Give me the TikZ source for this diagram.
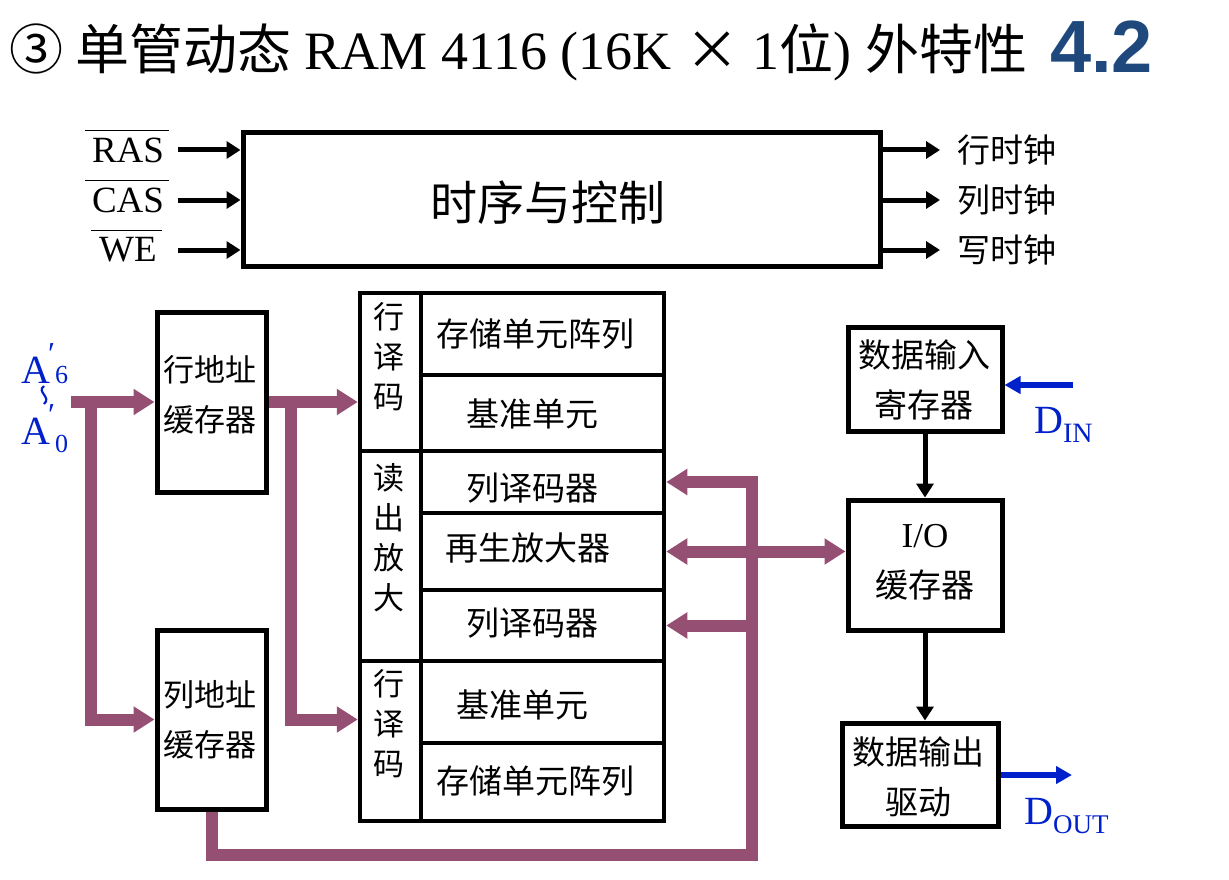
\documentclass[tikz,border=0pt]{standalone}
\usepackage{fontspec}
\setmainfont{Liberation Serif}
\newfontfamily\cjk{Noto Sans CJK SC}
\newfontfamily\lsans{Liberation Sans}
\usetikzlibrary{arrows.meta}
\definecolor{busc}{RGB}{149,79,114}
\definecolor{sigblue}{RGB}{0,32,204}
\definecolor{numblue}{RGB}{31,73,125}
\begin{document}
\begin{tikzpicture}[x=1pt,y=-1pt,
  box/.style={draw, line width=5pt, inner sep=0pt},
  cell/.style={draw, line width=4.5pt, inner sep=0pt},
  ctext/.style={inner sep=0pt, align=center, font=\cjk\fontsize{33}{40}\selectfont},
  btext/.style={inner sep=0pt, align=center, font=\cjk\fontsize{31}{50}\selectfont},
  rtext/.style={inner sep=0pt, align=center, font=\cjk\fontsize{33}{50}\selectfont},
  vtext/.style={inner sep=0pt, align=center, font=\cjk\fontsize{31}{40}\selectfont},
  sig/.style={inner sep=0pt, font=\fontsize{37}{37}\selectfont},
  ovl/.style={line width=1.5pt},
  clk/.style={inner sep=0pt, anchor=west, font=\cjk\fontsize{33}{33}\selectfont},
  blk/.style={line width=5pt, -{Triangle[length=14pt,width=17pt]}},
  pbus/.style={draw=busc, line width=12pt, line join=miter},
  ptip/.style={-{Triangle[length=21pt,width=25pt]}},
  ptipb/.style={{Triangle[length=21pt,width=25pt]}-{Triangle[length=21pt,width=25pt]}},
  bl/.style={draw=sigblue, line width=5.5pt, -{Triangle[length=16pt,width=17pt]}},
  blab/.style={inner sep=0pt, anchor=base west, text=sigblue, font=\fontsize{40}{40}\selectfont}
]
\useasboundingbox (0,0) rectangle (1229,880);

% ---------- title ----------
\node[anchor=base west, inner sep=0pt] (title) at (9,70)
  {\fontsize{54}{60}\selectfont{\cjk ③ 单管动态} RAM 4116 (16K {\cjk ×} 1{\cjk 位}) {\cjk 外特性}};
\node[anchor=base west, inner sep=0pt, text=numblue] (num) at (1050,73)
  {\lsans\bfseries\fontsize{74}{74}\selectfont 4.2};

% ---------- timing and control ----------
\node[box, minimum width=637pt, minimum height=133pt] (ctrl) at (561.5,199.5) {};
\node[inner sep=0pt, font=\cjk\fontsize{47}{47}\selectfont] (ctrlT) at (548,203) {时序与控制};

\node[sig] (ras) at (128,150) {RAS};
\node[sig] (cas) at (128,200) {CAS};
\node[sig] (we)  at (128,250) {WE};
\draw[ovl] ([xshift=-7pt,yshift=7pt]ras.north west) -- ([xshift=5pt,yshift=7pt]ras.north east);
\draw[ovl] ([xshift=-7pt,yshift=7pt]cas.north west) -- ([xshift=5pt,yshift=7pt]cas.north east);
\draw[ovl] ([xshift=-8pt,yshift=7pt]we.north west) -- ([xshift=5pt,yshift=7pt]we.north east);
\coordinate (rasS) at (178,150);
\coordinate (casS) at (178,200);
\coordinate (weS)  at (178,250);
\draw[blk] (rasS) -- (ctrl.west |- rasS);
\draw[blk] (casS) -- (ctrl.west |- casS);
\draw[blk] (weS)  -- (ctrl.west |- weS);

\node[clk] (rclk) at (957,150) {行时钟};
\node[clk] (cclk) at (957,200) {列时钟};
\node[clk] (wclk) at (957,250) {写时钟};
\draw[blk] (ctrl.east |- rclk.west) -- ([xshift=-17pt]rclk.west);
\draw[blk] (ctrl.east |- cclk.west) -- ([xshift=-17pt]cclk.west);
\draw[blk] (ctrl.east |- wclk.west) -- ([xshift=-17pt]wclk.west);

% ---------- address buffers ----------
\node[box, minimum width=109pt, minimum height=180pt] (rbuf) at (211.5,402) {};
\node[btext] (rbufT) at (210,395) {行地址\\缓存器};
\node[box, minimum width=109pt, minimum height=179pt] (cbuf) at (211.5,719.5) {};
\node[btext] (cbufT) at (210,720) {列地址\\缓存器};

% ---------- memory column ----------
\node[cell, minimum width=61pt, minimum height=158pt] (rdec1) at (390.5,372) {};
\node[cell, minimum width=61pt, minimum height=210pt] (sa)    at (390.5,556) {};
\node[cell, minimum width=61pt, minimum height=160pt] (rdec2) at (390.5,741) {};
\node[cell, minimum width=243pt, minimum height=82pt] (arr1)  at (542.5,334) {};
\node[cell, minimum width=243pt, minimum height=76pt] (ref1)  at (542.5,413) {};
\node[cell, minimum width=243pt, minimum height=62pt] (cdec1) at (542.5,482) {};
\node[cell, minimum width=243pt, minimum height=77pt] (regen) at (542.5,551.5) {};
\node[cell, minimum width=243pt, minimum height=71pt] (cdec2) at (542.5,625.5) {};
\node[cell, minimum width=243pt, minimum height=82pt] (ref2)  at (542.5,702) {};
\node[cell, minimum width=243pt, minimum height=78pt] (arr2)  at (542.5,782) {};

\node[vtext] (rdec1T) at (389,357) {行\\译\\码};
\node[vtext] (saT)    at (389,538) {读\\出\\放\\大};
\node[vtext] (rdec2T) at (389,724) {行\\译\\码};
\node[ctext] (arr1T)  at (535,334) {存储单元阵列};
\node[ctext] (ref1T)  at (532,414) {基准单元};
\node[ctext] (cdec1T) at (532,488) {列译码器};
\node[ctext] (regenT) at (528,548) {再生放大器};
\node[ctext] (cdec2T) at (532,623) {列译码器};
\node[ctext] (ref2T)  at (522,705) {基准单元};
\node[ctext] (arr2T)  at (535,781) {存储单元阵列};

% ---------- data path ----------
\node[box, minimum width=154pt, minimum height=104pt] (inreg) at (925,379) {};
\node[rtext] (inregT) at (924,380) {数据输入\\寄存器};
\node[box, minimum width=154pt, minimum height=130pt] (io) at (925,565) {};
\node[rtext] (ioT) at (925,562) {{\fontsize{35}{35}\selectfont\rmfamily I/O}\\缓存器};
\node[box, minimum width=156pt, minimum height=103pt] (outdrv) at (920,774.5) {};
\node[rtext] (outdrvT) at (918,777) {数据输出\\驱动};

\draw[blk] (inreg.south) -- (io.north);
\draw[blk] (io.south) -- (io.south |- outdrv.north);

\coordinate (din) at (1073,385);
\draw[bl] (din) -- (inreg.east |- din);
\coordinate (dout) at (1072,775);
\draw[bl] (outdrv.east |- dout) -- (dout);
\node[blab] (dinL) at (1034,433) {D\raisebox{-9pt}{\fontsize{28}{28}\selectfont IN}};
\node[blab] (doutL) at (1024,824) {D\raisebox{-9pt}{\fontsize{27}{27}\selectfont OUT}};

% ---------- address labels ----------
\node[blab] (a6) at (21,383) {A\kern-2pt\raisebox{19pt}{\fontsize{32}{32}\selectfont\char"2032}{\fontsize{26}{26}\selectfont 6}};
\draw[sigblue, line width=2.2pt] (44,386) .. controls (36,392) and (52,397) .. (44,404);
\node[blab] (a0) at (21,444) {A\kern-2pt\raisebox{19pt}{\fontsize{32}{32}\selectfont\char"2032}\raisebox{-8pt}{\fontsize{26}{26}\selectfont 0}};

% ---------- purple buses ----------
\coordinate (ain) at (71,402);
\coordinate (sp1) at (91,402);
\coordinate (sp2) at (291,402);
\coordinate (busb) at (752,855);
\draw[pbus, ptip] (ain) -- (rbuf.west);
\draw[pbus, ptip] (sp1) |- (cbuf.west);
\draw[pbus, ptip] (rbuf.east) -- (rdec1.west |- rbuf.east);
\draw[pbus, ptip] (sp2) |- (rdec2.west |- cbuf.west);
\draw[pbus, ptip] (cbuf.south) |- (busb) |- (cdec1.east);
\draw[pbus, ptip] (busb |- cdec2.east) -- (cdec2.east);
\draw[pbus, ptipb] (regen.east) -- (io.west |- regen.east);
\end{tikzpicture}
\end{document}
